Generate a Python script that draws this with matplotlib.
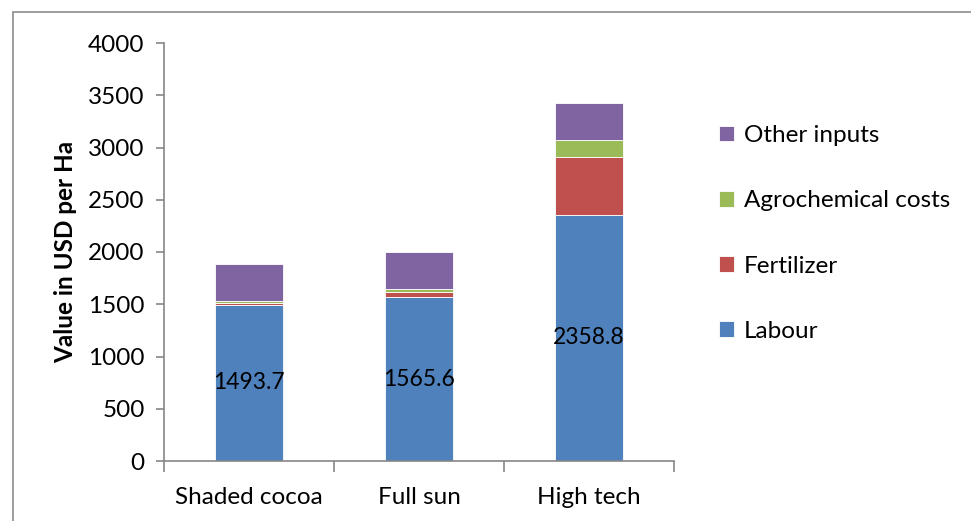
import matplotlib
matplotlib.use('Agg')
import matplotlib.pyplot as plt
from matplotlib.patches import Rectangle
import numpy as np

categories = ['Shaded cocoa', 'Full sun', 'High tech']
labour = [1493.7, 1565.6, 2358.8]
fertilizer = [15, 50, 550]
agrochemical = [25, 30, 165]
other_inputs = [355, 355, 355]

series = [
    ('Labour', labour, '#4F81BD'),
    ('Fertilizer', fertilizer, '#C0504D'),
    ('Agrochemical costs', agrochemical, '#9BBB59'),
    ('Other inputs', other_inputs, '#8064A2'),
]

plt.rcParams['font.family'] = ['Lato', 'DejaVu Sans']

fig = plt.figure(figsize=(9.71, 5.21), dpi=100)
ax = fig.add_axes([164 / 971, 60 / 521, 510 / 971, 418 / 521])

# outer chart border
fig.patches.append(Rectangle((13 / 971, -0.05), 1.1, 1 - 12 / 521 + 0.05,
                             transform=fig.transFigure, fill=False,
                             edgecolor='#8c8c8c', linewidth=1.2))

x = np.arange(len(categories))
bottom = np.zeros(len(categories))
handles = []
for name, vals, color in series:
    b = ax.bar(x, vals, width=0.4, bottom=bottom, color=color,
               edgecolor='white', linewidth=0.6, label=name)
    handles.append(b)
    bottom += np.array(vals)

for xi, v in zip(x, labour):
    ax.text(xi, v / 2, f'{v:.1f}', ha='center', va='center', fontsize=16.5)

ax.set_xlim(-0.5, 2.5)
ax.set_ylim(0, 4000)
ax.set_yticks(range(0, 4001, 500))
ax.set_xticks(x)
ax.set_xticklabels(categories, fontsize=17.5)
ax.tick_params(axis='x', length=0, pad=19)
ax.set_xticks([-0.5, 0.5, 1.5, 2.5], minor=True)
ax.tick_params(axis='x', which='minor', length=8, color='#868686', width=1.2)
ax.tick_params(axis='y', labelsize=17.5, length=6, color='#868686', width=1.2, pad=8)
for s in ['top', 'right']:
    ax.spines[s].set_visible(False)
for s in ['left', 'bottom']:
    ax.spines[s].set_color('#868686')
    ax.spines[s].set_linewidth(1.2)

ax.set_ylabel('Value in USD per Ha', fontsize=17.5, fontweight='bold', labelpad=8)

leg = fig.legend(handles[::-1], [s[0] for s in series][::-1],
                 loc='center left', bbox_to_anchor=(719 / 971, 1 - 233.5 / 521),
                 frameon=False, fontsize=17.5, handlelength=0.62, handleheight=0.62,
                 handletextpad=0.4, labelspacing=1.82, borderpad=0, borderaxespad=0)

fig.savefig('out.png', dpi=100)
